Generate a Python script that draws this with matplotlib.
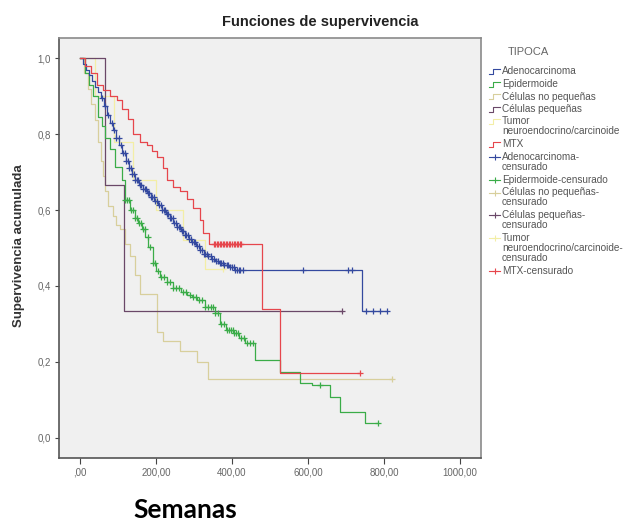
import numpy as np
import matplotlib
matplotlib.use("Agg")
import matplotlib.pyplot as plt
from matplotlib.lines import Line2D

plt.rcParams['font.family'] = ['Liberation Sans', 'DejaVu Sans']

# Kaplan-Meier curves (weeks, cumulative survival)
adeno_t = [0, 8, 16, 24, 32, 40, 48, 56, 64, 72, 80, 88, 96, 104, 112, 120, 128, 136, 146, 156,
           166, 176, 186, 196, 206, 216, 226, 236, 246, 256, 266, 276, 286, 296, 306, 316, 326,
           336, 346, 356, 366, 378, 392, 406, 742]
adeno_s = [1.0, 0.985, 0.97, 0.955, 0.94, 0.925, 0.91, 0.895, 0.875, 0.85, 0.83, 0.81, 0.79, 0.77,
           0.75, 0.73, 0.71, 0.695, 0.68, 0.665, 0.655, 0.645, 0.635, 0.625, 0.612, 0.60, 0.59,
           0.578, 0.566, 0.555, 0.545, 0.535, 0.525, 0.515, 0.505, 0.495, 0.485, 0.478, 0.47,
           0.465, 0.46, 0.455, 0.45, 0.443, 0.333]
adeno_cens = [58, 66, 74, 84, 90, 96, 102, 108, 114, 118, 122, 126, 130, 134, 138, 142, 146, 150,
              154, 158, 162, 166, 170, 174, 178, 182, 186, 190, 194, 198, 204, 208, 212, 216, 220,
              224, 228, 232, 236, 240, 244, 248, 252, 256, 260, 264, 268, 272, 276, 280, 284, 288,
              292, 296, 300, 304, 308, 312, 316, 322, 326, 330, 334, 338, 344, 348, 352, 358, 364,
              368, 372, 376, 380, 386, 390, 394, 400, 404, 408, 414, 418, 422, 430, 588, 706, 716,
              752, 772, 790, 808]

epid_t = [0, 13, 25, 34, 47, 57, 66, 79, 92, 110, 118, 132, 145, 153, 163, 171, 179, 192, 200,
          211, 228, 245, 265, 282, 295, 308, 330, 355, 368, 385, 403, 418, 434, 461, 526, 579,
          610, 658, 684, 750]
epid_s = [1.0, 0.96, 0.93, 0.90, 0.845, 0.82, 0.79, 0.76, 0.713, 0.68, 0.626, 0.60, 0.58, 0.566,
          0.55, 0.53, 0.503, 0.46, 0.44, 0.424, 0.41, 0.395, 0.385, 0.376, 0.37, 0.363, 0.345,
          0.329, 0.30, 0.285, 0.276, 0.262, 0.25, 0.205, 0.174, 0.145, 0.139, 0.108, 0.069, 0.039]
epid_cens = [118, 124, 128, 134, 140, 146, 150, 156, 160, 166, 170, 178, 185, 192, 198, 206, 214,
             222, 230, 238, 246, 252, 260, 270, 280, 290, 298, 305, 312, 320, 330, 338, 344, 350,
             356, 362, 370, 378, 386, 392, 398, 402, 405, 410, 416, 425, 432, 440, 448, 455, 632, 784]

nopeq_t = [0, 10, 20, 30, 39, 48, 55, 60, 67, 74, 87, 96, 105, 118, 132, 145, 158, 203, 218,
           263, 308, 337]
nopeq_s = [1.0, 0.96, 0.92, 0.88, 0.837, 0.78, 0.73, 0.69, 0.65, 0.61, 0.585, 0.56, 0.55, 0.51,
           0.48, 0.43, 0.38, 0.28, 0.256, 0.23, 0.20, 0.156]
nopeq_cens = [820]

peq_t = [0, 66, 115]
peq_s = [1.0, 0.667, 0.333]
peq_cens = [690]

tumor_t = [0, 40, 90, 140, 200, 270, 330]
tumor_s = [1.0, 0.9, 0.78, 0.68, 0.6, 0.52, 0.445]
tumor_cens = [376]

mtx_t = [0, 13, 30, 45, 62, 79, 97, 112, 126, 139, 158, 176, 190, 203, 218, 229, 245, 263, 282,
         297, 316, 324, 340, 478, 525]
mtx_s = [1.0, 0.98, 0.96, 0.93, 0.915, 0.90, 0.89, 0.865, 0.84, 0.80, 0.78, 0.77, 0.755, 0.74,
         0.71, 0.68, 0.66, 0.65, 0.63, 0.605, 0.574, 0.54, 0.51, 0.34, 0.17]
mtx_cens = [352, 356, 360, 364, 368, 372, 376, 380, 384, 388, 392, 396, 400, 404, 408, 412, 416,
            420, 424, 737]

x_ticks = [0, 200, 400, 600, 800, 1000]
x_tick_labels = [",00", "200,00", "400,00", "600,00", "800,00", "1000,00"]
y_ticks = [0.0, 0.2, 0.4, 0.6, 0.8, 1.0]
y_tick_labels = ["0,0", "0,2", "0,4", "0,6", "0,8", "1,0"]

curve_labels = ["Adenocarcinoma", "Epidermoide", "Células no pequeñas", "Células pequeñas",
                "Tumor\nneuroendocrino/carcinoide", "MTX"]
cens_labels = ["Adenocarcinoma-\ncensurado", "Epidermoide-censurado",
               "Células no pequeñas-\ncensurado", "Células pequeñas-\ncensurado",
               "Tumor\nneuroendocrino/carcinoide-\ncensurado", "MTX-censurado"]

colors = {"adeno": "#34499f", "epid": "#3aac48", "nopeq": "#d8cf9c",
          "peq": "#6a4868", "tumor": "#f3eea6", "mtx": "#e6464c"}

series = [
    ("tumor", tumor_t, tumor_s, tumor_cens),
    ("nopeq", nopeq_t, nopeq_s, nopeq_cens),
    ("peq", peq_t, peq_s, peq_cens),
    ("epid", epid_t, epid_s, epid_cens),
    ("adeno", adeno_t, adeno_s, adeno_cens),
    ("mtx", mtx_t, mtx_s, mtx_cens),
]

W, H = 634, 524
fig = plt.figure(figsize=(W / 100, H / 100), dpi=100)
ax = fig.add_axes([59 / W, 1 - 458 / H, (481 - 59) / W, (458 - 38) / H])
ax.set_facecolor("#f0f0f0")


def surv_at(t, s, tc):
    idx = np.searchsorted(np.asarray(t), tc, side="right") - 1
    return np.asarray(s)[idx]


for key, t, s, cens in series:
    c = colors[key]
    end = max(cens)
    ax.step(t + [end], s + [s[-1]], where="post", color=c, lw=0.9, zorder=2)
    ax.plot(cens, surv_at(t, s, cens), ls="none", marker="+", ms=4.5, mew=0.9,
            color=c, zorder=3)

ax.set_xlim(-55, 1055)
ax.set_ylim(-0.053, 1.053)
ax.set_xticks(x_ticks)
ax.set_xticklabels(x_tick_labels)
ax.set_yticks(y_ticks)
ax.set_yticklabels(y_tick_labels)
ax.tick_params(axis="x", direction="out", length=4.5, width=0.8, color="#444",
               labelsize=7, labelcolor="#666", pad=2)
ax.tick_params(axis="y", direction="out", length=3, width=0.8, color="#444",
               labelsize=7, labelcolor="#666", pad=3)
for side in ["top", "right"]:
    ax.spines[side].set_color("#8a8a8a")
    ax.spines[side].set_linewidth(1.2)
for side in ["left", "bottom"]:
    ax.spines[side].set_color("#555555")
    ax.spines[side].set_linewidth(1.2)

fig.text(320 / W, 1 - 22 / H, "Funciones de supervivencia", ha="center", va="center",
         fontsize=10.5, fontweight="bold", color="#222")
fig.text(19 / W, 1 - 246 / H, "Supervivencia acumulada", ha="center", va="center",
         rotation=90, fontsize=9.5, fontweight="bold", color="#333")
fig.text(185 / W, 1 - 510 / H, "Semanas", ha="center", va="center", fontsize=19,
         fontweight="bold", color="black", family=["Lato", "DejaVu Sans"])

# legend
fig.text(528 / W, 1 - 52 / H, "TIPOCA", ha="center", va="center", fontsize=8, color="#666")
order = ["adeno", "epid", "nopeq", "peq", "tumor", "mtx"]
y = 71.0
line_h, gap = 10.3, 2.2
entries = [(k, lab, False) for k, lab in zip(order, curve_labels)] + \
          [(k, lab, True) for k, lab in zip(order, cens_labels)]
for key, lab, is_cens in entries:
    c = colors[key]
    if is_cens:
        fig.add_artist(Line2D([489 / W, 500 / W], [1 - (y + 1) / H] * 2, color=c, lw=0.8))
        fig.add_artist(Line2D([494.5 / W], [1 - (y + 1) / H], color=c, marker="+",
                              ms=4, mew=0.8, ls="none"))
    else:
        fig.add_artist(Line2D([489 / W, 493 / W, 493 / W, 500 / W],
                              [1 - (y + 3) / H, 1 - (y + 3) / H, 1 - (y - 2) / H, 1 - (y - 2) / H],
                              color=c, lw=0.8))
    fig.text(502 / W, 1 - (y - 4.5) / H, lab, ha="left", va="top", fontsize=7.2,
             color="#555", linespacing=1.0)
    y += line_h * (lab.count("\n") + 1) + gap

fig.savefig("out.png", dpi=100, facecolor="white")
